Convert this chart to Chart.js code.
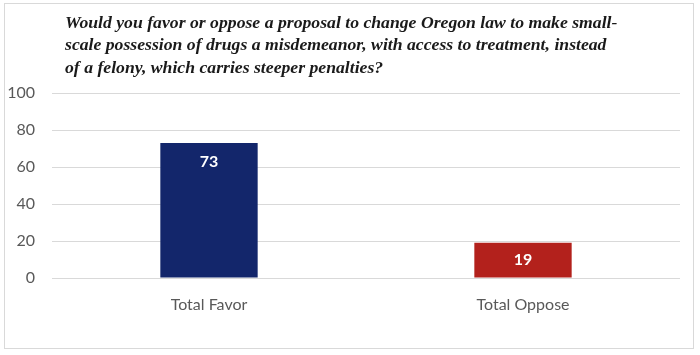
<!DOCTYPE html>
<html><head><meta charset="utf-8">
<script src="https://cdn.jsdelivr.net/npm/chart.js@4"></script>
<style>html,body{margin:0;padding:0;background:#fff}#w{width:700px;height:355px}</style>
</head><body><div id="w"><canvas id="c" width="700" height="355"></canvas></div>
<script>
const categories = ["Total Favor", "Total Oppose"];
const values = [73, 19];
const barColors = ["#13266b", "#b3211c"];
const titleLines = [
  "Would you favor or oppose a proposal to change Oregon law to make small-",
  "scale possession of drugs a misdemeanor, with access to treatment, instead",
  "of a felony, which carries steeper penalties?"
];
const yTicks = [0, 20, 40, 60, 80, 100];

const decor = {
  id: 'decor',
  beforeDraw(chart) {
    const ctx = chart.ctx;
    ctx.save();
    ctx.fillStyle = '#fff';
    ctx.fillRect(0, 0, chart.width, chart.height);
    ctx.strokeStyle = '#d9d9d9';
    ctx.lineWidth = 1;
    ctx.strokeRect(4.5, 3.5, 689, 345);
    ctx.restore();
  },
  afterDraw(chart) {
    const ctx = chart.ctx;
    ctx.save();
    ctx.fillStyle = '#1a1a1a';
    ctx.font = "italic bold 17.7px 'Liberation Serif'";
    ctx.textBaseline = 'middle';
    ctx.textAlign = 'left';
    titleLines.forEach((t, i) => ctx.fillText(t, 65, 23 + i * 22.5));
    const meta = chart.getDatasetMeta(0);
    ctx.fillStyle = '#fff';
    ctx.font = "bold 16px Lato";
    ctx.textAlign = 'center';
    meta.data.forEach((bar, i) => {
      const y = Math.min(bar.y + 19, (bar.y + bar.base) / 2);
      ctx.fillText(String(values[i]), bar.x, y);
    });
    ctx.restore();
  }
};

new Chart(document.getElementById('c'), {
  type: 'bar',
  data: {
    labels: categories,
    datasets: [{ data: values, backgroundColor: barColors, barPercentage: 0.62, categoryPercentage: 0.5 }]
  },
  options: {
    responsive: false,
    animation: false,
    layout: { padding: { top: 93, right: 20, left: 0, bottom: 0 } },
    plugins: { legend: { display: false }, tooltip: { enabled: false } },
    scales: {
      x: {
        grid: { display: false, drawTicks: false },
        border: { display: false },
        ticks: { color: '#595959', font: { family: 'Lato', size: 16 }, padding: 17 },
        afterFit(s) { s.height = 77; }
      },
      y: {
        min: 0, max: 100,
        afterBuildTicks(s) { s.ticks = yTicks.map(v => ({ value: v })); },
        grid: { color: '#d9d9d9', drawTicks: false },
        border: { display: false },
        ticks: { color: '#595959', font: { family: 'Lato', size: 16 }, padding: 17 },
        afterFit(s) { s.width = 52; }
      }
    }
  },
  plugins: [decor]
});
</script></body></html>
